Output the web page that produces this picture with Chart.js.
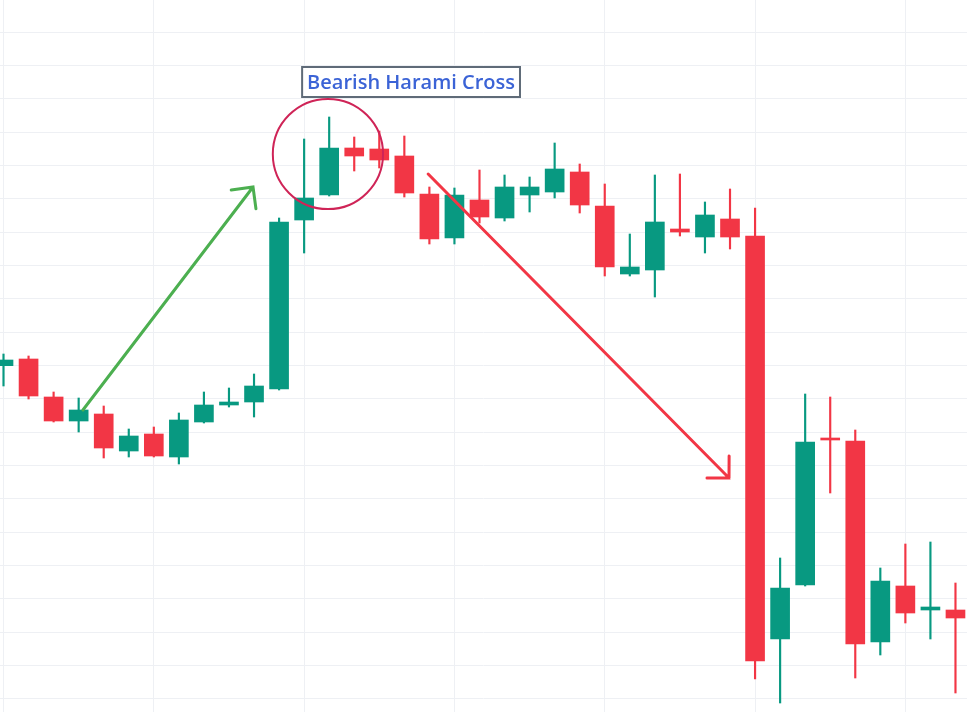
<!DOCTYPE html>
<html>
<head>
<meta charset="utf-8">
<script src="https://cdn.jsdelivr.net/npm/chart.js@4"></script>
<style>
  html, body { margin: 0; padding: 0; background: #ffffff; }
  #wrap { width: 967px; height: 712px; position: relative; }
</style>
</head>
<body>
<div id="wrap"><canvas id="chart"></canvas></div>
<script>
// candle values (arbitrary price units)
const opens = [199.9, 201.9, 190.5, 183.3, 185.4, 174.3, 179.4, 172.5, 183.0, 188.1,
  189.0, 192.9, 243.6, 251.1, 265.2, 264.9, 262.8, 251.4, 238.2, 249.6,
  244.2, 251.1, 252.0, 258.0, 247.8, 227.4, 228.6, 240.9, 238.5, 243.9,
  238.8, 117.9, 134.1, 178.2, 177.3, 117.0, 133.8, 126.6, 126.6];
const closes = [201.6, 190.8, 183.3, 186.6, 175.2, 178.8, 172.8, 183.6, 188.1, 189.0,
  193.8, 243.0, 250.2, 265.2, 262.8, 261.6, 251.7, 237.9, 251.1, 244.5,
  253.5, 253.5, 258.9, 248.1, 229.5, 229.5, 243.0, 240.0, 245.1, 238.5,
  111.3, 133.2, 177.0, 177.6, 116.4, 135.3, 125.7, 127.5, 124.2];
const highs = [203.4, 202.8, 192.0, 190.2, 187.8, 180.9, 181.5, 185.7, 192.0, 193.2,
  197.4, 244.2, 267.9, 274.5, 268.5, 270.3, 268.8, 253.5, 253.2, 258.6,
  257.1, 256.5, 266.7, 260.4, 254.4, 239.4, 257.1, 257.4, 249.0, 252.9,
  247.2, 142.2, 191.4, 190.5, 180.6, 139.2, 146.4, 147.0, 134.7];
const lows = [193.8, 189.9, 183.0, 180.0, 172.2, 172.5, 172.5, 170.4, 182.7, 187.5,
  184.5, 192.6, 233.7, 250.8, 258.3, 259.2, 250.5, 236.4, 236.4, 242.7,
  243.3, 246.0, 250.2, 245.7, 226.8, 226.8, 220.5, 238.8, 233.7, 234.9,
  105.9, 98.7, 133.8, 161.7, 106.2, 113.1, 122.7, 117.9, 101.7];

// grid positions (no labels shown)
const xTicks = [0, 6, 12, 18, 24, 30, 36];
const yTicks = [100, 110, 120, 130, 140, 150, 160, 170, 180, 190, 200,
  210, 220, 230, 240, 250, 260, 270, 280, 290, 300];

const UP = '#089981';
const DOWN = '#f23645';

const bodies = opens.map((o, i) => ({ x: i, y: [o, closes[i]] }));
const wicks = lows.map((l, i) => ({ x: i, y: [l, highs[i]] }));
const candleColor = (c) => {
  const i = c.dataIndex;
  return closes[i] >= opens[i] ? UP : DOWN;
};

// drawn overlay: arrows, circle and label, placed in data units
const overlay = {
  id: 'overlay',
  afterDatasetsDraw(chart) {
    const { ctx, scales: { x, y } } = chart;
    const px = (a, b) => [x.getPixelForValue(a), y.getPixelForValue(b)];

    function arrow(from, to, color) {
      const [x1, y1] = px(from[0], from[1]);
      const [x2, y2] = px(to[0], to[1]);
      const ang = Math.atan2(y2 - y1, x2 - x1);
      const len = 22;
      ctx.save();
      ctx.strokeStyle = color;
      ctx.lineWidth = 3;
      ctx.lineCap = 'round';
      ctx.beginPath();
      ctx.moveTo(x1, y1);
      ctx.lineTo(x2, y2);
      ctx.moveTo(x2 - len * Math.cos(ang - Math.PI / 4), y2 - len * Math.sin(ang - Math.PI / 4));
      ctx.lineTo(x2, y2);
      ctx.lineTo(x2 - len * Math.cos(ang + Math.PI / 4), y2 - len * Math.sin(ang + Math.PI / 4));
      ctx.stroke();
      ctx.restore();
    }

    arrow([3.17, 186.6], [9.96, 253.5], '#4caf50');
    arrow([16.95, 257.4], [28.96, 166.2], '#f23645');

    // circle around the pattern
    const [cx, cy] = px(12.95, 263.4);
    const r = x.getPixelForValue(2.2) - x.getPixelForValue(0);
    ctx.save();
    ctx.strokeStyle = '#cf2457';
    ctx.lineWidth = 2;
    ctx.beginPath();
    ctx.arc(cx, cy, r, 0, Math.PI * 2);
    ctx.stroke();
    ctx.restore();

    // label
    const text = 'Bearish Harami Cross';
    const [lx, ly] = px(11.92, 289.5);
    ctx.save();
    ctx.font = '600 20px "Open Sans"';
    const w = ctx.measureText(text).width + 10;
    const h = 30;
    ctx.fillStyle = '#ffffff';
    ctx.fillRect(lx, ly, w, h);
    ctx.strokeStyle = '#5f6b78';
    ctx.lineWidth = 2;
    ctx.strokeRect(lx, ly, w, h);
    ctx.fillStyle = '#3b63d6';
    ctx.textBaseline = 'middle';
    ctx.fillText(text, lx + 5, ly + h / 2 + 1);
    ctx.restore();
  }
};

new Chart(document.getElementById('chart'), {
  type: 'bar',
  data: {
    datasets: [
      {
        label: 'Body',
        data: bodies,
        backgroundColor: candleColor,
        borderWidth: 0,
        barThickness: 19,
        grouped: false,
      },
      {
        label: 'Wick',
        data: wicks,
        backgroundColor: candleColor,
        borderWidth: 0,
        barThickness: 1.5,
        grouped: false,
      },
    ],
  },
  options: {
    responsive: true,
    maintainAspectRatio: false,
    animation: false,
    layout: { padding: 0 },
    plugins: {
      legend: { display: false },
      tooltip: { enabled: false },
    },
    scales: {
      x: {
        type: 'linear',
        min: -0.14,
        max: 38.46,
        offset: false,
        afterBuildTicks: (s) => { s.ticks = xTicks.map((v) => ({ value: v })); },
        ticks: { display: false },
        grid: { color: '#eef0f4', drawTicks: false, lineWidth: 1, offset: false },
        border: { display: false },
      },
      y: {
        min: 96,
        max: 309.6,
        afterBuildTicks: (s) => { s.ticks = yTicks.map((v) => ({ value: v })); },
        ticks: { display: false },
        grid: { color: '#eef0f4', drawTicks: false, lineWidth: 1 },
        border: { display: false },
      },
    },
  },
  plugins: [overlay],
});
</script>
</body>
</html>
